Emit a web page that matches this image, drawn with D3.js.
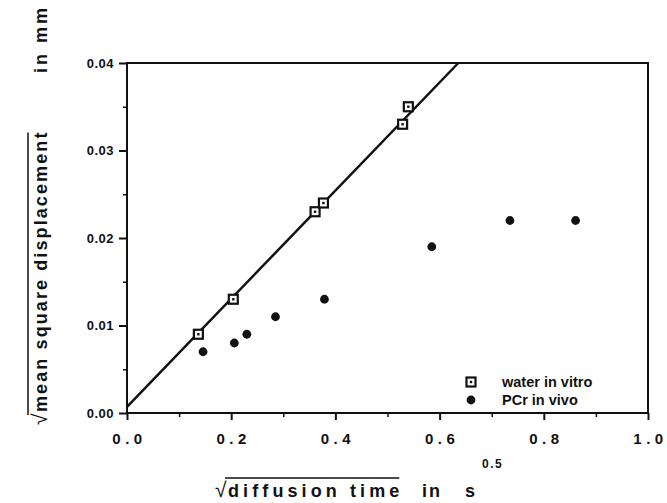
<!DOCTYPE html>
<html>
<head>
<meta charset="utf-8">
<script src="https://cdn.jsdelivr.net/npm/d3@7"></script>
<style>
  body { margin: 0; background: #fff; }
  text { font-family: "Liberation Sans", Arial, Helvetica, sans-serif; font-weight: bold; fill: #111; }
</style>
</head>
<body>
<div id="chart"></div>
<script>
// data
var water_x = [0.137, 0.204, 0.361, 0.377, 0.529, 0.540];
var water_y = [0.009, 0.013, 0.023, 0.024, 0.033, 0.035];
var pcr_x = [0.146, 0.206, 0.230, 0.285, 0.379, 0.585, 0.735, 0.861];
var pcr_y = [0.007, 0.008, 0.009, 0.011, 0.013, 0.019, 0.022, 0.022];
// fitted line through the water points
var fit_intercept = 0.0007;
var fit_slope = 0.0618;
var x_ticks = [0.0, 0.2, 0.4, 0.6, 0.8, 1.0];
var y_ticks = [0.00, 0.01, 0.02, 0.03, 0.04];
var legend_labels = ["water in vitro", "PCr in vivo"];

const width = 667, height = 503;
const margin = {top: 63, right: 19, bottom: 90, left: 127};

const svg = d3.select("#chart")
    .append("svg")
    .attr("width", width)
    .attr("height", height);

const x = d3.scaleLinear()
    .domain([0, 1])
    .range([margin.left, width - margin.right]);

const y = d3.scaleLinear()
    .domain([0, 0.04])
    .range([height - margin.bottom, margin.top]);

// frame
svg.append("rect")
    .attr("x", x(0)).attr("y", y(0.04))
    .attr("width", x(1) - x(0)).attr("height", y(0) - y(0.04))
    .attr("fill", "none").attr("stroke", "#111").attr("stroke-width", 2);

// x axis: minor ticks then major ticks
svg.append("g")
    .attr("transform", `translate(0, ${y(0)})`)
    .call(d3.axisBottom(x).tickValues(d3.range(0.1, 1.0, 0.2)).tickSize(4).tickFormat(""))
    .call(g => g.select(".domain").remove())
    .selectAll("line").attr("stroke", "#111").attr("stroke-width", 1.5);

const xa = svg.append("g")
    .attr("transform", `translate(0, ${y(0)})`)
    .call(d3.axisBottom(x).tickValues(x_ticks).tickSize(7).tickPadding(13).tickFormat(d3.format(".1f")));
xa.select(".domain").remove();
xa.selectAll("line").attr("stroke", "#111").attr("stroke-width", 2);
xa.selectAll("text")
    .style("font-family", '"Liberation Sans", Arial, sans-serif')
    .style("font-weight", "bold")
    .style("font-size", "15px")
    .style("letter-spacing", "4.5px")
    .attr("dx", "2px")
    .attr("fill", "#111");

// y axis
svg.append("g")
    .attr("transform", `translate(${x(0)}, 0)`)
    .call(d3.axisLeft(y).tickValues(d3.range(0.005, 0.04, 0.01)).tickSize(4).tickFormat(""))
    .call(g => g.select(".domain").remove())
    .selectAll("line").attr("stroke", "#111").attr("stroke-width", 1.5);

const ya = svg.append("g")
    .attr("transform", `translate(${x(0)}, 0)`)
    .call(d3.axisLeft(y).tickValues(y_ticks).tickSize(8).tickPadding(5).tickFormat(d3.format(".2f")));
ya.select(".domain").remove();
ya.selectAll("line").attr("stroke", "#111").attr("stroke-width", 2);
ya.selectAll("text")
    .style("font-family", '"Liberation Sans", Arial, sans-serif')
    .style("font-weight", "bold")
    .style("font-size", "13px")
    .style("letter-spacing", "0.5px")
    .attr("fill", "#111");

// fit line, stops at the top of the frame
const x_end = (0.04 - fit_intercept) / fit_slope;
svg.append("path")
    .attr("d", d3.line()([[x(0), y(fit_intercept)], [x(x_end), y(0.04)]]))
    .attr("stroke", "#111")
    .attr("stroke-width", 2.5)
    .attr("fill", "none");

// PCr in vivo points
svg.append("g").selectAll("circle")
    .data(pcr_x)
    .enter().append("circle")
    .attr("cx", d => x(d))
    .attr("cy", (d, i) => y(pcr_y[i]))
    .attr("r", 4.4)
    .attr("fill", "#111");

// water in vitro points
var square = function (g, cx, cy) {
    g.append("rect")
        .attr("x", cx - 4.5).attr("y", cy - 4.5)
        .attr("width", 9).attr("height", 9)
        .attr("fill", "#fff").attr("stroke", "#111").attr("stroke-width", 2.2);
    g.append("rect")
        .attr("x", cx - 1.2).attr("y", cy - 1.2)
        .attr("width", 2.4).attr("height", 2.4)
        .attr("fill", "#111");
};
const wg = svg.append("g");
water_x.forEach(function (d, i) {
    square(wg, x(d), y(water_y[i]));
});

// legend
const lx = 471, ly = 382;
const lg = svg.append("g");
square(lg, lx, ly);
lg.append("circle").attr("cx", lx).attr("cy", ly + 18).attr("r", 4.4).attr("fill", "#111");
legend_labels.forEach(function (d, i) {
    lg.append("text")
        .attr("x", lx + 31)
        .attr("y", ly + 18 * i + 5)
        .style("font-size", "14.5px")
        .text(d);
});

// radical helper: √ + text + overline
var radical = function (g, label, size, spacing) {
    g.append("text")
        .attr("x", 0).attr("y", 0)
        .style("font-size", (size + 3) + "px")
        .style("font-weight", "normal")
        .text("√");
    const t = g.append("text")
        .attr("x", 13).attr("y", 0)
        .style("font-size", size + "px")
        .style("letter-spacing", spacing + "px")
        .text(label);
    const w = t.node().getComputedTextLength();
    g.append("line")
        .attr("x1", 10).attr("x2", 13 + w - spacing)
        .attr("y1", -size - 1).attr("y2", -size - 1)
        .attr("stroke", "#111").attr("stroke-width", 1.5);
};

// x title
const xt = svg.append("g").attr("transform", "translate(215, 497)");
radical(xt, "diffusion time", 18, 4.1);
svg.append("text").attr("x", 422).attr("y", 497).style("font-size", "18px").style("letter-spacing", "2px").text("in");
svg.append("text").attr("x", 465).attr("y", 497).style("font-size", "18px").text("s");
svg.append("text").attr("x", 482).attr("y", 468).style("font-size", "12px").style("letter-spacing", "1.5px").text("0.5");

// y title
const yt = svg.append("g").attr("transform", "translate(47, 425) rotate(-90)");
radical(yt, "mean square displacement", 18, 2.1);
svg.append("text")
    .attr("transform", "translate(47, 73) rotate(-90)")
    .style("font-size", "18px")
    .style("letter-spacing", "3px")
    .text("in  mm");
</script>
</body>
</html>
